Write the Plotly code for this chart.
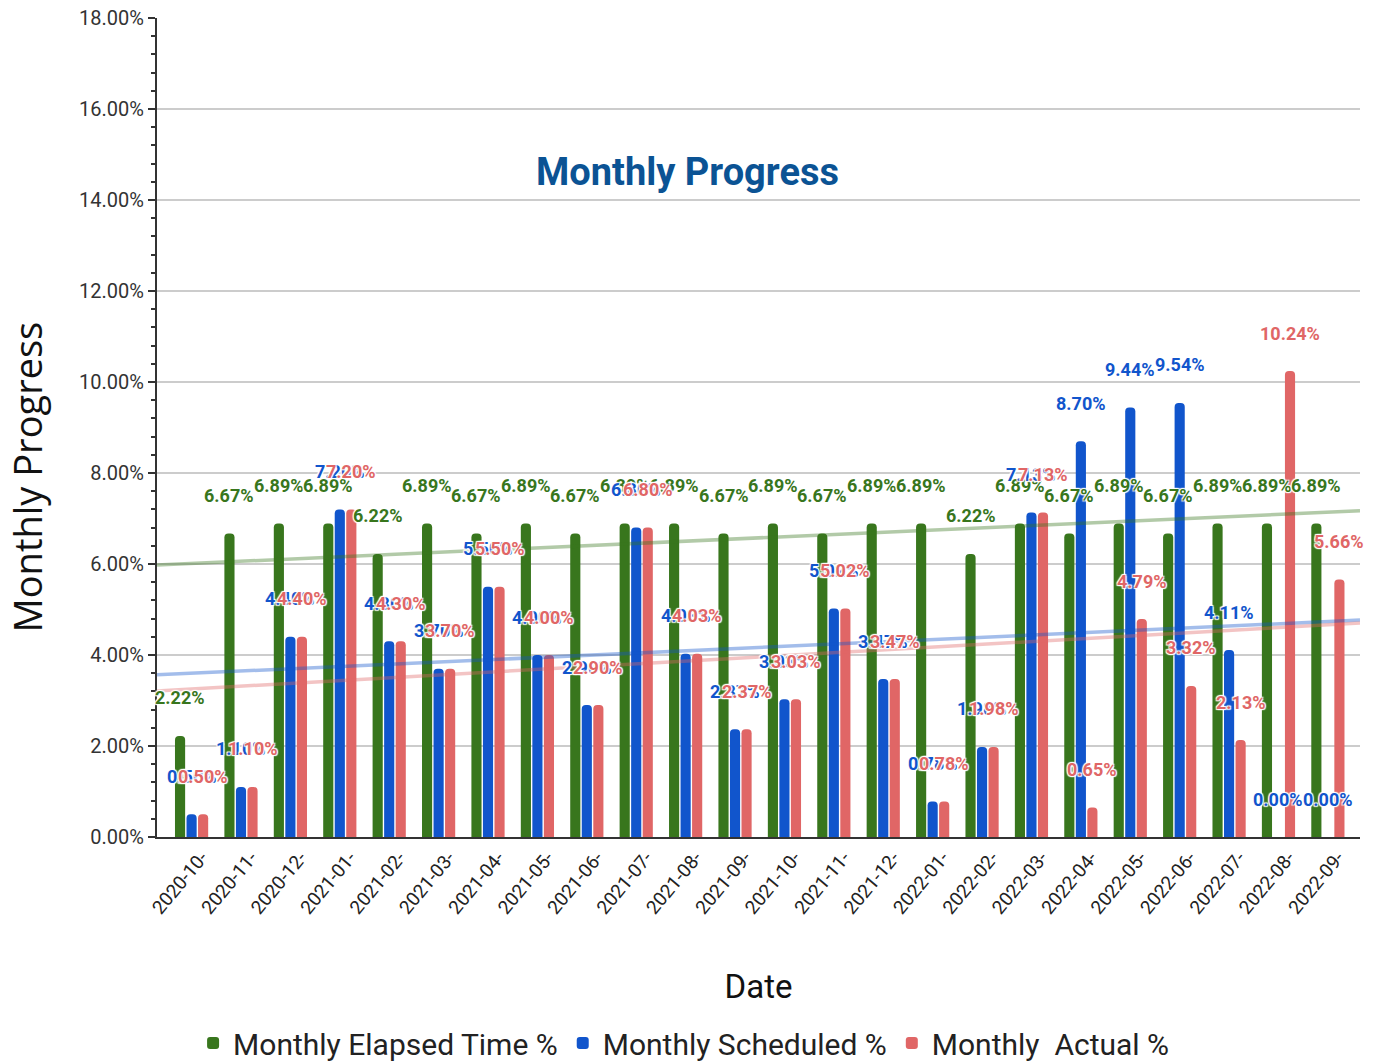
import numpy as np
import plotly.graph_objects as go

months = ["2020-10-", "2020-11-", "2020-12-", "2021-01-", "2021-02-", "2021-03-",
          "2021-04-", "2021-05-", "2021-06-", "2021-07-", "2021-08-", "2021-09-",
          "2021-10-", "2021-11-", "2021-12-", "2022-01-", "2022-02-", "2022-03-",
          "2022-04-", "2022-05-", "2022-06-", "2022-07-", "2022-08-", "2022-09-"]

elapsed = [2.22, 6.67, 6.89, 6.89, 6.22, 6.89, 6.67, 6.89, 6.67, 6.89, 6.89, 6.67,
           6.89, 6.67, 6.89, 6.89, 6.22, 6.89, 6.67, 6.89, 6.67, 6.89, 6.89, 6.89]
scheduled = [0.50, 1.10, 4.40, 7.20, 4.30, 3.70, 5.50, 4.00, 2.90, 6.80, 4.03, 2.37,
             3.03, 5.02, 3.47, 0.78, 1.98, 7.13, 8.70, 9.44, 9.54, 4.11, 0.00, 0.00]
actual = [0.50, 1.10, 4.40, 7.20, 4.30, 3.70, 5.50, 4.00, 2.90, 6.80, 4.03, 2.37,
          3.03, 5.02, 3.47, 0.78, 1.98, 7.13, 0.65, 4.79, 3.32, 2.13, 10.24, 5.66]

y_ticks = [0, 2, 4, 6, 8, 10, 12, 14, 16, 18]

series = [
    ("Monthly Elapsed Time %", elapsed, "#38761d"),
    ("Monthly Scheduled %", scheduled, "#1155cc"),
    ("Monthly  Actual %", actual, "#e06666"),
]

COND = "Roboto, 'Noto Sans', sans-serif"
BARGAP = 0.3
X_RANGE = [-0.7, 23.65]

x = np.arange(len(months))
fig = go.Figure()

for name, vals, col in series:
    fig.add_trace(go.Bar(
        x=x, y=vals, name=name,
        marker=dict(color=col, cornerradius=4, line=dict(width=0)),
        hoverinfo="skip",
    ))

# linear trendlines (computed from the data)
xt = np.array(X_RANGE)
for name, vals, col in series:
    k, b = np.polyfit(x, np.array(vals), 1)
    fig.add_trace(go.Scatter(
        x=xt, y=k * xt + b, mode="lines", showlegend=False,
        line=dict(color=col, width=3.5), opacity=0.38, hoverinfo="skip",
    ))

# data labels
slot = (1 - BARGAP) / 3
halo = "1px 1px 1px white, -1px -1px 1px white, 1px -1px 1px white, -1px 1px 1px white, 0px 0px 2px white"
for si, (name, vals, col) in enumerate(series):
    off = (si - 1) * slot
    for i, v in enumerate(vals):
        fig.add_annotation(
            x=i + off, y=v, xref="x", yref="y",
            text=f"{v:.2f}%", showarrow=False, yshift=38,
            font=dict(family=COND, size=18, color=col, weight="bold", shadow=halo),
        )

# y-axis title (placed off-centre as in the reference)
fig.add_annotation(
    x=-0.1085, y=0.4396, xref="paper", yref="paper", textangle=-90,
    text="Monthly Progress", showarrow=False, xanchor="center", yanchor="middle",
    font=dict(family="'Open Sans', 'Noto Sans', sans-serif", size=38, color="#111111"),
)

fig.update_layout(
    width=1375, height=1064,
    paper_bgcolor="white", plot_bgcolor="white",
    margin=dict(l=157, r=15, t=18, b=227, autoexpand=False),
    barmode="group", bargap=BARGAP, bargroupgap=0.12,
    title=dict(
        text="<b>Monthly Progress</b>", x=0.5, xanchor="center",
        y=1 - 172 / 1064, yanchor="middle",
        font=dict(family=COND, size=38, color="#0b5394"),
    ),
    legend=dict(
        orientation="h", x=0.03, xanchor="left", y=-0.2515, yanchor="middle",
        font=dict(family=COND, size=30, color="#222222"),
        itemwidth=30, traceorder="normal",
    ),
    showlegend=True,
    yaxis2=dict(
        overlaying="y", matches="y", anchor="x", side="left", range=[0, 18],
        showticklabels=False, showgrid=False, zeroline=False, showline=False,
        tickmode="array", tickvals=y_ticks,
        ticks="inside", ticklen=7, tickwidth=2, tickcolor="#333333",
        minor=dict(dtick=0.4, ticks="inside", ticklen=4, tickwidth=1.5, tickcolor="#333333", showgrid=False),
    ),
)

# invisible trace to activate the overlay axis (inside ticks)
fig.add_trace(go.Scatter(x=[0], y=[0], yaxis="y2", mode="markers",
                         marker=dict(opacity=0), showlegend=False, hoverinfo="skip"))

fig.update_xaxes(
    range=X_RANGE, tickmode="array", tickvals=list(x), ticktext=months,
    tickangle=-50, tickfont=dict(family=COND, size=19, color="#222222"),
    ticklabelshift=10,
    showgrid=False, showline=True, linecolor="#333333", linewidth=2,
    ticks="", zeroline=False,
    title=dict(text="Date", font=dict(family=COND, size=33, color="#111111"), standoff=57),
)

fig.update_yaxes(
    range=[0, 18], tickmode="array", tickvals=y_ticks,
    ticktext=[f"{t:.2f}%" for t in y_ticks],
    tickfont=dict(family=COND, size=20, color="#333333"),
    showgrid=True, gridcolor="#cccccc", gridwidth=2,
    showline=True, linecolor="#333333", linewidth=2,
    ticks="outside", ticklen=7, tickwidth=2, tickcolor="#333333",
    minor=dict(dtick=0.4, ticks="outside", ticklen=4, tickwidth=1.5, tickcolor="#333333", showgrid=False),
    zeroline=False,
)
fig.layout.yaxis2.showticklabels = False

fig.write_html("out.html", config={"displayModeBar": False},
               post_script="document.body.style.margin='0px';")
